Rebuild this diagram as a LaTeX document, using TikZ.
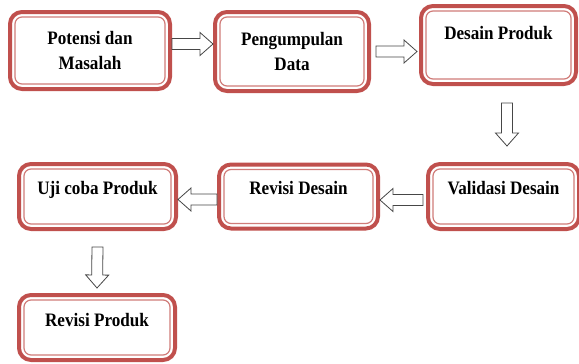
\documentclass[tikz,border=0pt]{standalone}
\usepackage{fontspec}
\setmainfont{Liberation Serif}[FakeStretch=0.9]
\usetikzlibrary{calc}
\definecolor{boxred}{RGB}{192,80,77}
\definecolor{arrowgray}{RGB}{70,70,70}

\tikzset{
  box/.style={draw=boxred, line width=4pt, rounded corners=12pt, fill=white,
    align=center, font=\bfseries\fontsize{19}{25}\selectfont},
  textdrop/.style={text height=12pt, text depth=#1},
  innerline/.style={draw=boxred!75, line width=1.2pt, rounded corners=7pt},
  blockarrow/.style={draw=arrowgray, line width=0.8pt, fill=white, line join=miter,
    to path={let \p1=(\tikztostart), \p2=(\tikztotarget),
      \n1={atan2(\y2-\y1,\x2-\x1)}, \n2={veclen(\x2-\x1,\y2-\y1)} in
      [shift={(\p1)}, rotate=\n1]
      (0pt,5.5pt) -- ({\n2*1pt-13pt},5.5pt) -- ({\n2*1pt-13pt},11.5pt)
      -- ({\n2*1pt},0pt) -- ({\n2*1pt-13pt},-11.5pt) -- ({\n2*1pt-13pt},-5.5pt)
      -- (0pt,-5.5pt) -- cycle}}
}

\begin{document}
\begin{tikzpicture}[x=1pt,y=-1pt]
\useasboundingbox (0,0) rectangle (579,364);

% first row
\node[box, minimum width=160pt, minimum height=77pt] (pot) at (90,50.5) {Potensi dan\\Masalah};
\node[box, minimum width=154pt, minimum height=79pt] (data) at (292,51.5) {Pengumpulan\\Data};
\node[box, minimum width=155pt, minimum height=78pt, textdrop=24pt] (dp) at (498.5,45) {Desain Produk};

% second row
\node[box, minimum width=151pt, minimum height=65pt, textdrop=17pt] (val) at (503.5,196.5) {Validasi Desain};
\node[box, minimum width=159pt, minimum height=64pt, textdrop=17pt] (rd) at (298.5,196.5) {Revisi Desain};
\node[box, minimum width=157pt, minimum height=65pt, textdrop=17pt] (uji) at (97.5,196.5) {Uji coba Produk};

% last box
\node[box, minimum width=156pt, minimum height=65pt, textdrop=15pt] (rp) at (97,327.5) {Revisi Produk};

\foreach \n in {pot,data,dp,val,rd,uji,rp}
  \draw[innerline] ([shift={(7pt,-7pt)}]\n.north west) rectangle ([shift={(-7pt,7pt)}]\n.south east);

% arrows
\draw[blockarrow] ([yshift=6.5pt]pot.east) to ([yshift=6.5pt]pot.east -| data.west);
\draw[blockarrow] ([xshift=5pt]data.east) to ([xshift=-2pt]dp.west |- data.east);
\coordinate (down1) at ([shift={(8.5pt,-17pt)}]dp.south);
\draw[blockarrow] (down1) to ([yshift=16pt]down1 |- val.north);
\draw[blockarrow] ([shift={(-3pt,-3.5pt)}]val.west) to ([yshift=-3.5pt]val.west -| rd.east);
\draw[blockarrow] ([yshift=-3pt]rd.west) to ([yshift=-3pt]rd.west -| uji.east);
\draw[blockarrow] ([yshift=-16pt]uji.south) to ([yshift=5pt]rp.north);
\end{tikzpicture}
\end{document}
